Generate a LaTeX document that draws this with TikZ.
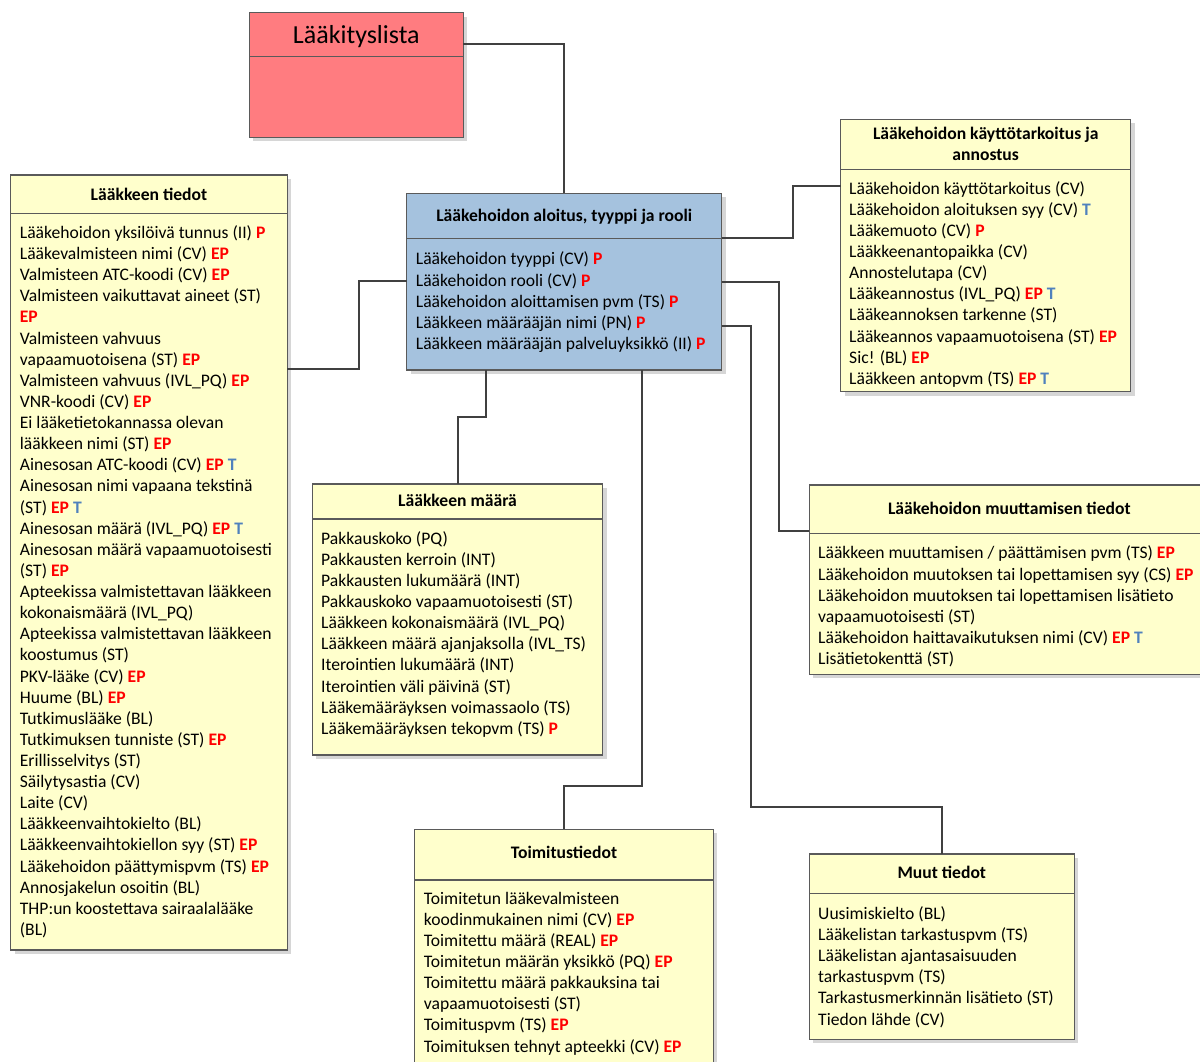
\documentclass[tikz,border=0pt]{standalone}
\usepackage{fontspec}
\setmainfont{Carlito}
\usetikzlibrary{shadows}

\definecolor{yellowfill}{RGB}{255,255,204}
\definecolor{bluefill}{RGB}{165,194,222}
\definecolor{pinkfill}{RGB}{255,124,128}
\definecolor{bordergray}{RGB}{90,90,90}
\definecolor{conngray}{RGB}{64,64,64}
\definecolor{shadowgray}{RGB}{214,214,214}
\definecolor{tagred}{RGB}{255,0,0}
\definecolor{tagblue}{RGB}{79,129,189}

\newcommand\tagEP{\textcolor{tagred}{\textbf{EP}}}
\newcommand\tagP{\textcolor{tagred}{\textbf{P}}}
\newcommand\tagT{\textcolor{tagblue}{\textbf{T}}}
\newcommand\itemfont{\fontsize{17.6}{21.12}\selectfont}
\newcommand\headfont{\fontsize{17.6}{21.12}\selectfont\bfseries}

\tikzset{
  entity/.style={draw=bordergray, line width=1.3pt, anchor=north west,
    inner sep=0pt, outer sep=0pt,
    drop shadow={shadow xshift=4pt, shadow yshift=-4pt, fill=shadowgray, opacity=1}},
  divider/.style={draw=bordergray, line width=1.3pt},
  conn/.style={draw=conngray, line width=2pt},
  head/.style={font=\headfont, anchor=base, inner sep=0pt},
  attr/.style={font=\itemfont, anchor=north west, align=left, inner sep=0pt},
}

\begin{document}
\begin{tikzpicture}[x=1pt, y=-1pt]
\useasboundingbox[fill=white] (0,0) rectangle (1200,1061);

% ---- boxes ----
\node[entity, fill=pinkfill, minimum width=214pt, minimum height=124.6pt] (lista) at (249.3,12.7) {};
\node[entity, fill=bluefill, minimum width=315pt, minimum height=176.7pt] (cbox) at (406.7,193.3) {};
\node[entity, fill=yellowfill, minimum width=290pt, minimum height=272.4pt] (kaytto) at (840.7,119.3) {};
\node[entity, fill=yellowfill, minimum width=276.6pt, minimum height=775pt] (tiedot) at (10.7,175) {};
\node[entity, fill=yellowfill, minimum width=290.4pt, minimum height=271pt] (maara) at (312.3,484) {};
\node[entity, fill=yellowfill, minimum width=410pt, minimum height=189.3pt] (muutos) at (809.3,485) {};
\node[entity, fill=yellowfill, minimum width=298.6pt, minimum height=250pt] (toimitus) at (414.7,829.3) {};
\node[entity, fill=yellowfill, minimum width=265pt, minimum height=185.3pt] (muut) at (809.3,854) {};

% ---- header dividers ----
\draw[divider] (lista.west |- 0,56.7) -- (lista.east |- 0,56.7);
\draw[divider] (cbox.west |- 0,238.3) -- (cbox.east |- 0,238.3);
\draw[divider] (kaytto.west |- 0,169.3) -- (kaytto.east |- 0,169.3);
\draw[divider] (tiedot.west |- 0,213.3) -- (tiedot.east |- 0,213.3);
\draw[divider] (maara.west |- 0,519) -- (maara.east |- 0,519);
\draw[divider] (muutos.west |- 0,533.3) -- (muutos.east |- 0,533.3);
\draw[divider] (toimitus.west |- 0,880) -- (toimitus.east |- 0,880);
\draw[divider] (muut.west |- 0,893.3) -- (muut.east |- 0,893.3);

% ---- titles ----
\node[anchor=base, inner sep=0pt, font=\fontsize{26}{30}\selectfont] (listaH) at (lista.north |- 0,43.3) {Lääkityslista};
\node[head] (cboxH) at (cbox.north |- 0,221) {Lääkehoidon aloitus, tyyppi ja rooli};
\node[head] (kayttoH1) at (kaytto.north |- 0,139.3) {Lääkehoidon käyttötarkoitus ja};
\node[head] (kayttoH2) at (kaytto.north |- 0,160.4) {annostus};
\node[head] (tiedotH) at (tiedot.north |- 0,200) {Lääkkeen tiedot};
\node[head] (maaraH) at (maara.north |- 0,506.7) {Lääkkeen määrä};
\node[head] (muutosH) at (1009.3,514.3) {Lääkehoidon muuttamisen tiedot};
\node[head] (toimitusH) at (toimitus.north |- 0,858.3) {Toimitustiedot};
\node[head] (muutH) at (muut.north |- 0,878.3) {Muut tiedot};

% ---- attribute lists (top = first baseline - 0.7 baselineskip) ----
\node[attr] (cboxL) at (415.7,249.9) {\strut Lääkehoidon tyyppi (CV) \tagP\\
Lääkehoidon rooli (CV) \tagP\\
Lääkehoidon aloittamisen pvm (TS) \tagP\\
Lääkkeen määrääjän nimi (PN) \tagP\\
Lääkkeen määrääjän palveluyksikkö (II) \tagP};

\node[attr] (kayttoL) at (849,179.2) {\strut Lääkehoidon käyttötarkoitus (CV)\\
Lääkehoidon aloituksen syy (CV) \tagT\\
Lääkemuoto (CV) \tagP\\
Lääkkeenantopaikka (CV)\\
Annostelutapa (CV)\\
Lääkeannostus (IVL\_PQ) \tagEP\ \tagT\\
Lääkeannoksen tarkenne (ST)\\
Lääkeannos vapaamuotoisena (ST) \tagEP\\
Sic! (BL) \tagEP\\
Lääkkeen antopvm (TS) \tagEP\ \tagT};

\node[attr] (tiedotL) at (19.7,223.5) {\strut Lääkehoidon yksilöivä tunnus (II) \tagP\\
Lääkevalmisteen nimi (CV) \tagEP\\
Valmisteen ATC-koodi (CV) \tagEP\\
Valmisteen vaikuttavat aineet (ST)\\
\tagEP\\
Valmisteen vahvuus\\
vapaamuotoisena (ST) \tagEP\\
Valmisteen vahvuus (IVL\_PQ) \tagEP\\
VNR-koodi (CV) \tagEP\\
Ei lääketietokannassa olevan\\
lääkkeen nimi (ST) \tagEP\\
Ainesosan ATC-koodi (CV) \tagEP\ \tagT\\
Ainesosan nimi vapaana tekstinä\\
(ST) \tagEP\ \tagT\\
Ainesosan määrä (IVL\_PQ) \tagEP\ \tagT\\
Ainesosan määrä vapaamuotoisesti\\
(ST) \tagEP\\
Apteekissa valmistettavan lääkkeen\\
kokonaismäärä (IVL\_PQ)\\
Apteekissa valmistettavan lääkkeen\\
koostumus (ST)\\
PKV-lääke (CV) \tagEP\\
Huume (BL) \tagEP\\
Tutkimuslääke (BL)\\
Tutkimuksen tunniste (ST) \tagEP\\
Erillisselvitys (ST)\\
Säilytysastia (CV)\\
Laite (CV)\\
Lääkkeenvaihtokielto (BL)\\
Lääkkeenvaihtokiellon syy (ST) \tagEP\\
Lääkehoidon päättymispvm (TS) \tagEP\\
Annosjakelun osoitin (BL)\\
THP:un koostettava sairaalalääke\\
(BL)};

\node[attr] (maaraL) at (321,529.2) {\strut Pakkauskoko (PQ)\\
Pakkausten kerroin (INT)\\
Pakkausten lukumäärä (INT)\\
Pakkauskoko vapaamuotoisesti (ST)\\
Lääkkeen kokonaismäärä (IVL\_PQ)\\
Lääkkeen määrä ajanjaksolla (IVL\_TS)\\
Iterointien lukumäärä (INT)\\
Iterointien väli päivinä (ST)\\
Lääkemääräyksen voimassaolo (TS)\\
Lääkemääräyksen tekopvm (TS) \tagP};

\node[attr] (muutosL) at (818,543.9) {\strut Lääkkeen muuttamisen / päättämisen pvm (TS) \tagEP\\
Lääkehoidon muutoksen tai lopettamisen syy (CS) \tagEP\\
Lääkehoidon muutoksen tai lopettamisen lisätieto\\
vapaamuotoisesti (ST)\\
Lääkehoidon haittavaikutuksen nimi (CV) \tagEP\ \tagT\\
Lisätietokenttä (ST)};

\node[attr] (toimitusL) at (423.7,889.2) {\strut Toimitetun lääkevalmisteen\\
koodinmukainen nimi (CV) \tagEP\\
Toimitettu määrä (REAL) \tagEP\\
Toimitetun määrän yksikkö (PQ) \tagEP\\
Toimitettu määrä pakkauksina tai\\
vapaamuotoisesti (ST)\\
Toimituspvm (TS) \tagEP\\
Toimituksen tehnyt apteekki (CV) \tagEP};

\node[attr] (muutL) at (818,904.5) {\strut Uusimiskielto (BL)\\
Lääkelistan tarkastuspvm (TS)\\
Lääkelistan ajantasaisuuden\\
tarkastuspvm (TS)\\
Tarkastusmerkinnän lisätieto (ST)\\
Tiedon lähde (CV)};

% ---- connectors ----
\draw[conn] (lista.east |- 0,44) -| (cbox.north);
\draw[conn] (cbox.west |- 0,281) -- (359,281) |- (tiedot.east |- 0,369);
\draw[conn] (cbox.east |- 0,238) -- (793,238) |- (kaytto.west |- 0,186);
\draw[conn] (cbox.east |- 0,282) -- (779,282) |- (muutos.west |- 0,531);
\draw[conn] (cbox.east |- 0,326) -- (751,326) -- (751,807) -| (muut.north);
\draw[conn] (cbox.south -| 486,0) -- (486,417) -| (maara.north);
\draw[conn] (cbox.south -| 642,0) -- (642,786) -| (toimitus.north);
\end{tikzpicture}
\end{document}
